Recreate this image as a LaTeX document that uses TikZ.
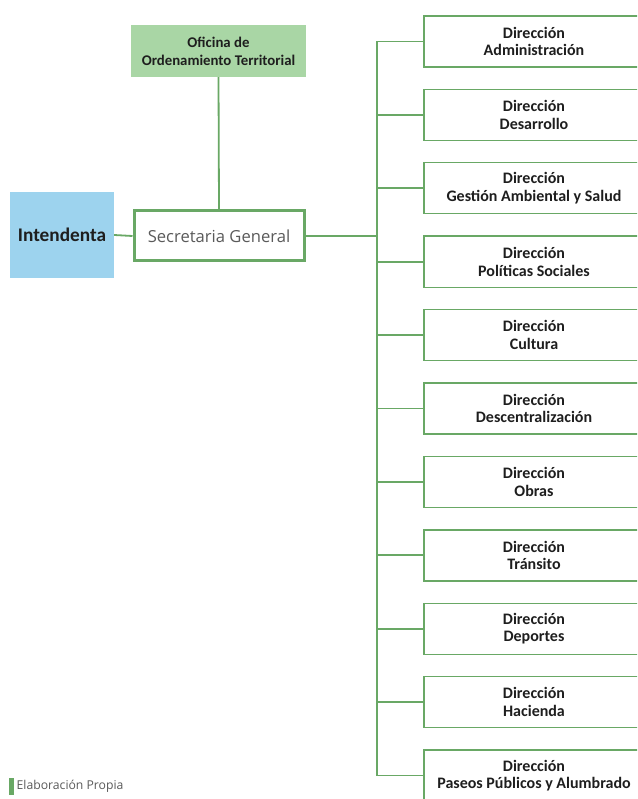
\documentclass[tikz,border=0pt]{standalone}
\usepackage{fontspec}
\setmainfont{Carlito}
\newfontfamily\lightsans{Open Sans}
\definecolor{linegreen}{HTML}{69A865}
\definecolor{officefill}{HTML}{A9D6A5}
\definecolor{chieffill}{HTML}{9DD3EE}
\definecolor{inktext}{HTML}{1E1E1E}
\definecolor{softtext}{HTML}{5A5A5A}
\begin{document}
\begin{tikzpicture}[x=1pt,y=-1pt,
  link/.style={draw=linegreen,line width=1.8pt},
  dirbox/.style={draw=linegreen,line width=1.4pt,fill=white,minimum width=220pt,minimum height=51pt,
    inner sep=0pt,align=center,text=inktext,font=\fontsize{16}{17.5}\selectfont\bfseries},
  officebox/.style={fill=officefill,minimum width=175pt,minimum height=52pt,inner sep=0pt,
    align=center,text=inktext,font=\fontsize{14.8}{18}\selectfont\bfseries},
  chiefbox/.style={fill=chieffill,minimum width=104pt,minimum height=86pt,inner sep=0pt,
    text=inktext,font=\fontsize{19.3}{22}\selectfont\bfseries},
  secbox/.style={draw=linegreen,line width=3pt,fill=white,minimum width=170pt,minimum height=50pt,
    inner sep=0pt,text=softtext,font=\lightsans\fontsize{16.6}{20}\selectfont}]
\useasboundingbox (0,0) rectangle (637,799);
\clip (0,0) rectangle (637,799);
\fill[white] (0,0) rectangle (637,799);

% top of the chart
\node[officebox] (ofi) at (218.5,51) {Oficina de\\Ordenamiento Territorial};
\node[chiefbox] (int) at (62,235) {Intendenta};
\node[secbox] (sec) at (219,236) {Secretaria General};
\coordinate (bus) at (377,236);

% directorates
\foreach \i/\txt in {0/Administración,1/Desarrollo,2/Gestión Ambiental y Salud,3/Políticas Sociales,
  4/Cultura,5/Descentralización,6/Obras,7/Tránsito,8/Deportes,9/Hacienda,10/Paseos Públicos y Alumbrado}
  \node[dirbox] (d\i) at (534,41.5+73.4*\i) {Dirección\\\txt};

% connectors
\draw[link] (int.east) -- (sec.west);
\draw[link] (ofi.south) -- (sec.north);
\draw[link] (sec.east) -- (bus);
\draw[link] (bus |- d0.west) -- (bus |- d10.west);
\foreach \i in {0,...,10}
  \draw[link] (bus |- d\i.west) -- (d\i.west);

% source note
\fill[linegreen] (9,778) rectangle (13.5,795) coordinate (bar);
\node[anchor=west,text=softtext,font=\lightsans\fontsize{12.2}{14}\selectfont,inner sep=0pt] (src) at (16.5,786.5) {Elaboración Propia};
\end{tikzpicture}
\end{document}
